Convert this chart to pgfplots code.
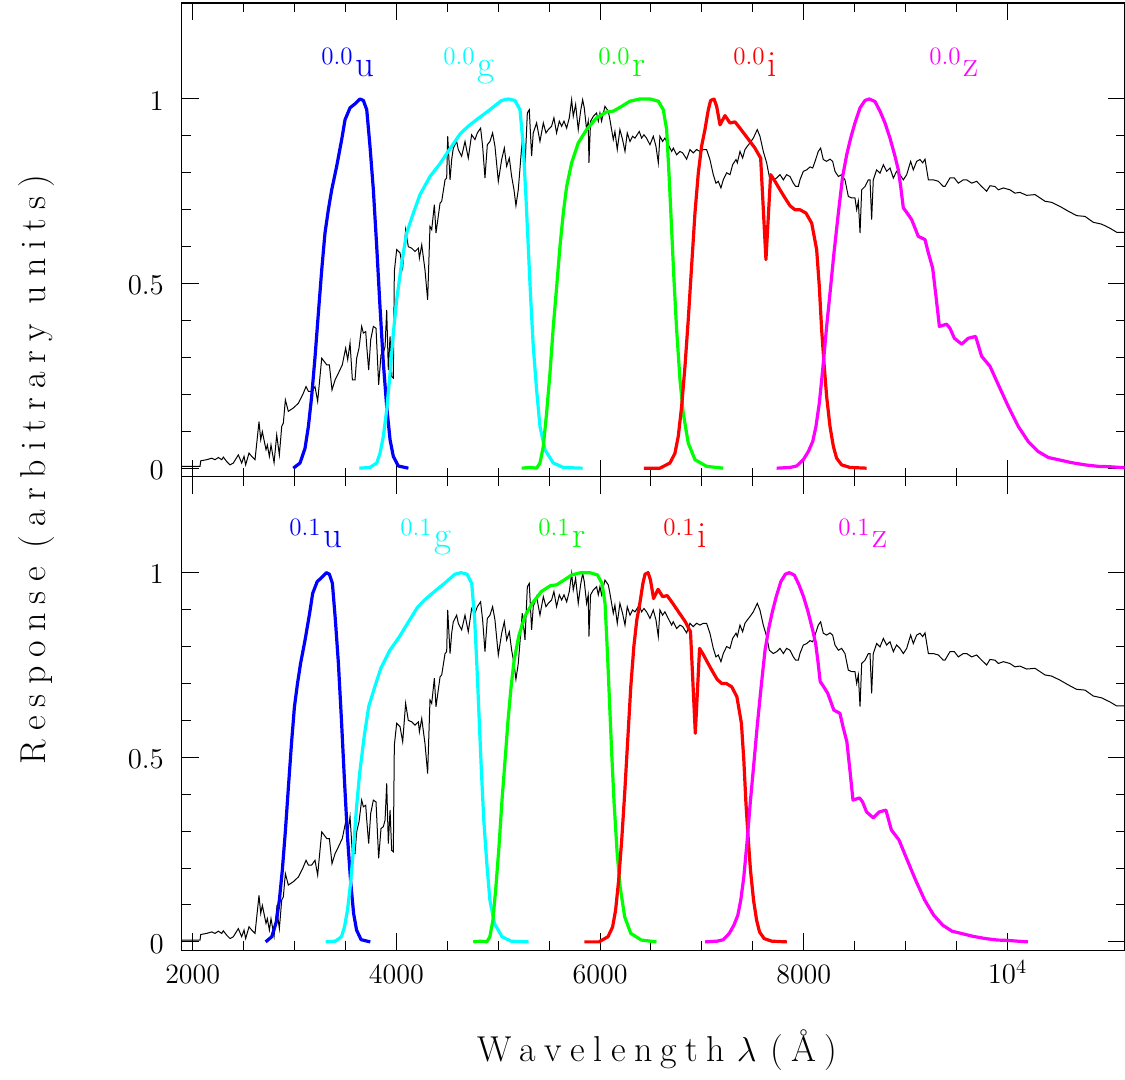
\documentclass[border=0pt]{standalone}
\usepackage{fontspec}
\usepackage{pgfplots}
\pgfplotsset{compat=1.18}
\usepackage{pgfplotstable}

\definecolor{fblue}{RGB}{0,0,255}
\definecolor{fcyan}{RGB}{0,255,255}
\definecolor{fgreen}{RGB}{0,255,0}
\definecolor{fred}{RGB}{255,0,0}
\definecolor{fmag}{RGB}{255,0,255}

\pgfplotstableread{
w r
1892 0.005
2072 0.005
2079 0.02
2137 0.023
2187 0.027
2219 0.023
2252 0.029
2285 0.023
2301 0.03
2334 0.018
2367 0.009
2399 0.014
2448 0.036
2481 0.014
2504 0.032
2520 0.009
2553 0.041
2579 0.032
2612 0.023
2651 0.126
2668 0.077
2684 0.099
2700 0.077
2720 0.05
2733 0.063
2753 0.032
2769 0.063
2799 0.015
2825 0.09
2851 0.036
2874 0.113
2890 0.122
2910 0.185
2939 0.154
2988 0.163
3038 0.176
3080 0.199
3113 0.221
3136 0.208
3168 0.208
3201 0.221
3227 0.181
3267 0.298
3316 0.28
3342 0.28
3368 0.212
3398 0.239
3430 0.257
3469 0.28
3502 0.325
3522 0.294
3545 0.339
3568 0.239
3594 0.239
3610 0.298
3633 0.325
3659 0.384
3676 0.366
3699 0.37
3709 0.33
3728 0.266
3748 0.348
3774 0.384
3800 0.379
3826 0.226
3849 0.307
3872 0.312
3889 0.33
3905 0.429
3921 0.266
3938 0.357
3954 0.248
3970 0.244
3980 0.533
4003 0.592
4036 0.583
4062 0.542
4091 0.646
4117 0.60
4150 0.596
4183 0.587
4216 0.596
4226 0.569
4249 0.605
4281 0.537
4307 0.456
4330 0.655
4347 0.646
4373 0.714
4389 0.637
4429 0.718
4445 0.723
4478 0.781
4494 0.786
4504 0.899
4527 0.781
4543 0.836
4559 0.867
4592 0.885
4608 0.863
4641 0.845
4674 0.885
4706 0.84
4739 0.903
4772 0.89
4795 0.908
4827 0.921
4847 0.872
4870 0.786
4893 0.876
4919 0.885
4945 0.908
4968 0.872
5001 0.777
5034 0.836
5060 0.867
5083 0.818
5109 0.84
5132 0.79
5155 0.754
5174 0.711
5197 0.754
5214 0.813
5236 0.89
5263 0.818
5286 0.962
5305 0.971
5328 0.845
5344 0.908
5377 0.935
5410 0.885
5443 0.935
5469 0.908
5492 0.917
5524 0.926
5547 0.949
5573 0.908
5600 0.94
5623 0.926
5646 0.94
5672 0.921
5698 0.949
5721 0.998
5737 0.953
5760 0.985
5786 0.917
5809 0.967
5829 0.998
5845 0.976
5868 0.917
5884 0.94
5891 0.827
5907 0.94
5934 0.953
5966 0.962
5983 0.94
5999 0.962
6015 0.94
6048 0.98
6081 0.967
6097 0.944
6130 0.89
6146 0.912
6169 0.863
6195 0.917
6221 0.89
6245 0.858
6267 0.908
6294 0.885
6320 0.899
6343 0.894
6385 0.912
6408 0.894
6431 0.903
6457 0.894
6490 0.876
6523 0.899
6549 0.872
6572 0.827
6588 0.899
6614 0.885
6637 0.894
6670 0.876
6703 0.858
6719 0.867
6752 0.849
6785 0.858
6811 0.854
6850 0.837
6883 0.863
6915 0.854
6948 0.863
6981 0.858
7014 0.863
7046 0.863
7079 0.836
7112 0.795
7138 0.772
7161 0.777
7187 0.759
7210 0.781
7243 0.80
7276 0.795
7302 0.822
7335 0.836
7348 0.827
7374 0.858
7400 0.84
7423 0.863
7446 0.872
7472 0.881
7505 0.894
7544 0.917
7570 0.899
7603 0.858
7636 0.827
7662 0.79
7701 0.781
7734 0.786
7767 0.795
7800 0.781
7832 0.795
7865 0.79
7898 0.772
7921 0.763
7947 0.763
7963 0.781
7996 0.804
8029 0.808
8062 0.816
8088 0.813
8111 0.831
8143 0.858
8166 0.867
8192 0.836
8225 0.831
8258 0.837
8284 0.831
8307 0.804
8340 0.79
8372 0.795
8405 0.781
8438 0.736
8471 0.732
8503 0.732
8520 0.70
8536 0.723
8553 0.637
8569 0.754
8602 0.763
8634 0.781
8651 0.781
8667 0.673
8683 0.781
8716 0.808
8749 0.799
8782 0.822
8814 0.804
8847 0.813
8880 0.786
8912 0.804
8945 0.795
8978 0.781
9011 0.795
9050 0.831
9076 0.808
9109 0.831
9142 0.836
9168 0.827
9191 0.837
9224 0.781
9273 0.781
9322 0.777
9371 0.763
9387 0.763
9436 0.786
9479 0.786
9518 0.772
9567 0.781
9600 0.781
9649 0.772
9698 0.777
9747 0.763
9796 0.75
9829 0.765
9878 0.763
9911 0.754
9960 0.759
10025 0.754
10074 0.745
10123 0.747
10189 0.739
10271 0.741
10369 0.723
10434 0.72
10516 0.709
10598 0.696
10680 0.684
10762 0.682
10843 0.666
10925 0.661
11007 0.65
11073 0.639
11154 0.639
}\spec

\pgfplotstableread{
w r
2988 0
3054 0.014
3103 0.054
3136 0.113
3168 0.194
3201 0.30
3234 0.42
3267 0.537
3299 0.637
3332 0.70
3365 0.754
3414 0.818
3463 0.89
3496 0.944
3545 0.976
3594 0.987
3643 1.0
3676 0.996
3709 0.971
3741 0.872
3774 0.754
3807 0.60
3839 0.438
3872 0.285
3905 0.167
3938 0.077
3970 0.032
4019 0.006
4118 0
}\ufilt

\pgfplotstableread{
w r
3636 0
3741 0.002
3807 0.014
3839 0.04
3872 0.086
3905 0.158
3938 0.257
3970 0.366
4003 0.456
4052 0.556
4101 0.637
4167 0.691
4232 0.741
4330 0.79
4429 0.825
4526 0.865
4625 0.905
4700 0.925
4788 0.944
4919 0.971
5033 0.996
5099 1.0
5164 0.996
5214 0.971
5246 0.872
5272 0.736
5295 0.60
5318 0.465
5344 0.33
5377 0.212
5410 0.113
5459 0.05
5541 0.014
5639 0.002
5829 0
}\gfilt

\pgfplotstableread{
w r
5230 0
5312 0.002
5377 0
5410 0.014
5443 0.059
5475 0.149
5508 0.257
5541 0.384
5574 0.492
5606 0.60
5639 0.691
5672 0.763
5721 0.827
5786 0.881
5868 0.917
5966 0.949
6065 0.965
6130 0.967
6212 0.98
6294 0.994
6392 1.0
6490 1.0
6572 0.994
6621 0.971
6654 0.917
6680 0.781
6703 0.646
6726 0.51
6752 0.375
6785 0.239
6817 0.149
6866 0.068
6932 0.023
7046 0.005
7210 0
}\rfilt

\pgfplotstableread{
w r
6431 0
6588 0
6686 0.014
6735 0.04
6768 0.086
6801 0.167
6834 0.276
6866 0.402
6899 0.547
6932 0.691
6965 0.80
6997 0.872
7030 0.917
7063 0.971
7086 0.996
7119 1.0
7145 0.98
7178 0.93
7227 0.955
7276 0.935
7325 0.938
7374 0.921
7423 0.903
7472 0.885
7521 0.867
7577 0.84
7629 0.565
7675 0.795
7718 0.777
7767 0.754
7816 0.732
7865 0.711
7914 0.70
7963 0.70
8022 0.691
8078 0.664
8127 0.592
8153 0.492
8176 0.375
8199 0.285
8225 0.194
8258 0.113
8291 0.059
8323 0.027
8372 0.009
8454 0.002
8618 0
}\ifilt

\pgfplotstableread{
w r
7734 0
7865 0.002
7931 0.006
7996 0.023
8045 0.045
8088 0.072
8120 0.113
8153 0.176
8186 0.266
8225 0.384
8258 0.474
8297 0.583
8340 0.691
8382 0.79
8422 0.849
8461 0.894
8503 0.935
8553 0.976
8602 0.996
8644 1.0
8700 0.993
8749 0.967
8798 0.935
8847 0.894
8896 0.845
8929 0.808
8952 0.763
8978 0.705
9011 0.693
9060 0.673
9125 0.628
9191 0.619
9224 0.583
9266 0.542
9299 0.465
9332 0.384
9403 0.39
9436 0.379
9479 0.352
9551 0.336
9616 0.352
9688 0.357
9747 0.303
9829 0.276
9911 0.226
10009 0.167
10107 0.113
10205 0.072
10303 0.045
10402 0.029
10500 0.023
10631 0.015
10762 0.009
10893 0.005
11000 0.004
11222 0.0
}\zfilt

\pgfplotsset{
  panel/.style={
    scale only axis,
    anchor=south west,
    width=471.4pt,
    height=236.85pt,
    xmin=1892, xmax=11150,
    ymin=-0.023, ymax=1.26,
    xtick={2000,4000,6000,8000,10000},
    scaled x ticks=false,
    scaled y ticks=false,
    minor x tick num=3,
    ytick={0,0.5,1},
    minor y tick num=4,
    tick align=inside,
    xtick pos=both, ytick pos=both,
    xticklabel pos=lower, yticklabel pos=left,
    major tick length=8.5pt,
    minor tick length=4.5pt,
    tick style={black, line width=0.5pt},
    axis line style={line width=0.7pt},
    yticklabel style={font=\fontsize{14}{16}\selectfont, anchor=east, inner sep=0pt, xshift=-8.75pt, yshift=-1pt},
    xticklabel style={font=\fontsize{14}{16}\selectfont, anchor=base, inner sep=0pt, yshift=-16.6pt},
  },
  spec/.style={black, line width=0.5pt},
  filt/.style={line width=1.6pt, line join=round},
}

\newcommand{\suplab}[2]{{\fontsize{12.5}{14}\selectfont\raisebox{6pt}{#1}}\kern1.5pt{\fontsize{18.5}{20}\selectfont #2}}

\makeatletter
\def\spaced#1#2{\def\sp@k{#1}\spaced@i#2\relax}
\def\spaced@i#1{\ifx\relax#1\else#1\kern\sp@k\expandafter\spaced@i\fi}
\makeatother

\begin{document}
\begin{tikzpicture}
\useasboundingbox (0,0) rectangle (562.5pt,540pt);

\begin{axis}[panel, at={(90.85pt,301.65pt)}, xticklabels={}]
\addplot[spec] table[x=w, y=r] {\spec};
\addplot[filt, fblue] table[x=w, y=r] {\ufilt};
\addplot[filt, fcyan] table[x=w, y=r] {\gfilt};
\addplot[filt, fgreen] table[x=w, y=r] {\rfilt};
\addplot[filt, fred] table[x=w, y=r] {\ifilt};
\addplot[filt, fmag] table[x=w, y=r] {\zfilt};
\end{axis}

\begin{axis}[panel, at={(90.85pt,64.8pt)}, xticklabels={2000,4000,6000,8000,$10^4$}]
\addplot[spec] table[x=w, y=r] {\spec};
\addplot[filt, fblue] table[x expr=\thisrow{w}/1.1, y=r] {\ufilt};
\addplot[filt, fcyan] table[x expr=\thisrow{w}/1.1, y=r] {\gfilt};
\addplot[filt, fgreen] table[x expr=\thisrow{w}/1.1, y=r] {\rfilt};
\addplot[filt, fred] table[x expr=\thisrow{w}/1.1, y=r] {\ifilt};
\addplot[filt, fmag] table[x expr=\thisrow{w}/1.1, y=r] {\zfilt};
\end{axis}

% filter labels, top panel
\node[anchor=base west, inner sep=0pt, text=fblue] at (160.5pt,501.75pt) {\suplab{0.0}{u}};
\node[anchor=base west, inner sep=0pt, text=fcyan] at (221.5pt,501.75pt) {\suplab{0.0}{g}};
\node[anchor=base west, inner sep=0pt, text=fgreen] at (299pt,501.75pt) {\suplab{0.0}{r}};
\node[anchor=base west, inner sep=0pt, text=fred] at (366.5pt,501.75pt) {\suplab{0.0}{i}};
\node[anchor=base west, inner sep=0pt, text=fmag] at (464.5pt,501.75pt) {\suplab{0.0}{z}};
% filter labels, bottom panel
\node[anchor=base west, inner sep=0pt, text=fblue] at (144.5pt,266pt) {\suplab{0.1}{u}};
\node[anchor=base west, inner sep=0pt, text=fcyan] at (200pt,266pt) {\suplab{0.1}{g}};
\node[anchor=base west, inner sep=0pt, text=fgreen] at (269pt,266pt) {\suplab{0.1}{r}};
\node[anchor=base west, inner sep=0pt, text=fred] at (331.5pt,266pt) {\suplab{0.1}{i}};
\node[anchor=base west, inner sep=0pt, text=fmag] at (419pt,266pt) {\suplab{0.1}{z}};

% axis labels
\node[anchor=base west, inner sep=0pt] at (238.35pt,9.15pt)
  {\fontsize{18}{20}\selectfont\spaced{4.2pt}{Wavelength}\kern1.5pt$\lambda$\kern7pt\spaced{4.2pt}{(Å)}};
\node[anchor=base west, inner sep=0pt, rotate=90] at (22.5pt,157.5pt)
  {\fontsize{18}{20}\selectfont\spaced{4.6pt}{Response}\kern5pt\spaced{4.6pt}{(arbitrary}\kern5pt\spaced{4.6pt}{units)}};
\end{tikzpicture}
\end{document}
